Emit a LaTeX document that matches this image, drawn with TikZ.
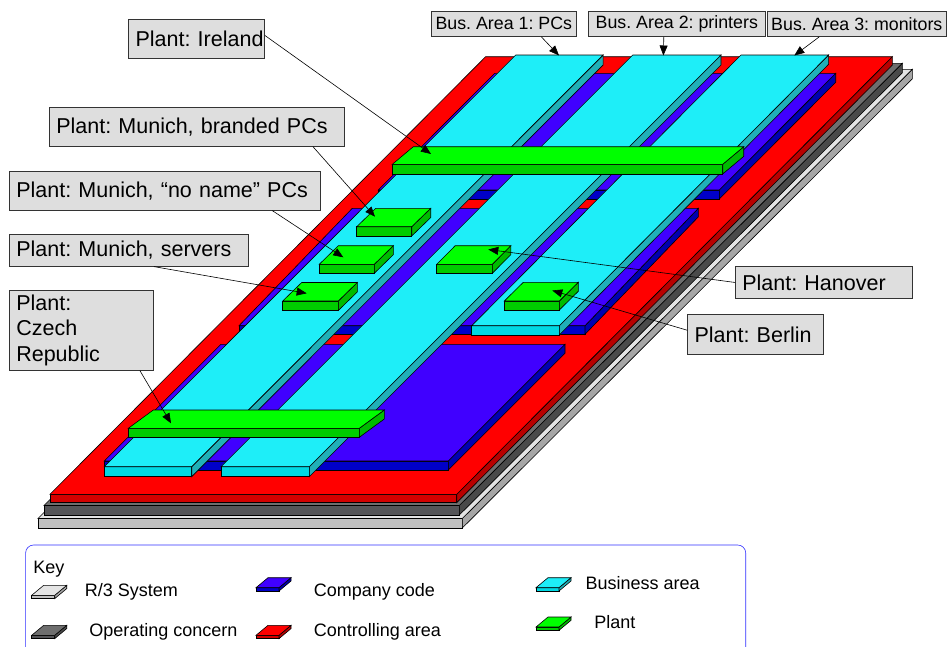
\documentclass[tikz,border=0pt]{standalone}
\usepackage{fontspec}
\setmainfont{Liberation Sans}
\usepackage{xcolor}
\usepackage{tikz}
\usetikzlibrary{arrows.meta}
\frenchspacing

\definecolor{systop}{HTML}{E4E4E4}
\definecolor{sysfront}{HTML}{C0C0C0}
\definecolor{sysside}{HTML}{A6A6A6}
\definecolor{opctop}{HTML}{6E6E6E}
\definecolor{opcfront}{HTML}{555558}
\definecolor{opcside}{HTML}{4A4A4A}
\definecolor{ctltop}{HTML}{FF0000}
\definecolor{ctlfront}{HTML}{D40000}
\definecolor{ctlside}{HTML}{B80000}
\definecolor{cctop}{HTML}{4000FF}
\definecolor{ccfront}{HTML}{0000C8}
\definecolor{ccside}{HTML}{0000B0}
\definecolor{batop}{HTML}{1EEEF8}
\definecolor{bafront}{HTML}{00D8E2}
\definecolor{baside}{HTML}{20B0B8}
\definecolor{pltop}{HTML}{00FF00}
\definecolor{plfront}{HTML}{00CC00}
\definecolor{plside}{HTML}{00BB00}
\definecolor{keyline}{HTML}{3030FF}

\begin{document}
\begin{tikzpicture}[x=1pt, y=-1pt, line width=0.6pt,
                    lbl/.style={draw=black!80, fill=black!13, anchor=north west,
                                inner xsep=7pt, inner ysep=0pt, align=left,
                                font=\fontsize{21.5}{25.5}\selectfont},
                    bus/.style={draw=black!80, fill=black!13, anchor=north west,
                                inner xsep=1pt, inner ysep=0pt, align=center,
                                minimum height=25.5pt,
                                font=\fontsize{17.8}{20}\selectfont},
                    arr/.style={-{Triangle[length=10pt,width=8pt]}, line width=0.6pt},
                    keytext/.style={anchor=base west, inner sep=0pt,
                                    font=\fontsize{18}{20}\selectfont}]
  \clip (0,0) rectangle (947,646);

  % layers, bottom to top: x/y of front left corner, width, slant, rise, thickness
  \foreach \x/\y/\w/\dx/\dy/\t/\col in {
      38/518.5/424.3/450/449.2/9.5/sys,
      44/505.5/415.3/443/442.2/9.5/opc,
      50/494.3/406.7/435.6/437.6/8.4/ctl,
      378.3/190/341/116.4/116.7/9/cc,
      239/325.7/346/113.3/117.4/8.6/cc,
      104.3/461/344/116.7/116.7/9/cc,
      471.7/325.7/87.6/269.3/270.7/9.3/ba,
      221/466.7/88.3/411.7/411.7/10/ba,
      104.3/466.7/87.4/411.4/411.7/10/ba,
      392.3/164.3/330.4/21/17.6/9.7/pl,
      356.7/226.7/55/19/18.4/9.3/pl,
      319.3/264.3/55/19/18.6/9/pl,
      282.7/301/55.6/19/18.5/9.5/pl,
      436.7/264.3/55.6/18.5/18.6/9/pl,
      504.3/301/55/19/18.7/9/pl,
      128.3/428.3/231/25/18.3/9/pl,
      31.7/595.3/23/12/10/3.3/sys,
      31.7/635.3/23/12/10/3.3/opc,
      256/587.7/23/12/10/3.3/cc,
      256/635.3/23/12/10/3.3/ctl,
      536/587.7/23/12/10/3.3/ba,
      536/627/23/12/10/3.3/pl}{
    \filldraw[fill=\col front] (\x,\y) rectangle ++(\w,\t);
    \filldraw[fill=\col side] (\x+\w,\y) -- ++(\dx,-\dy) -- ++(0,\t) -- ++(-\dx,\dy) -- cycle;
    \filldraw[fill=\col top] (\x,\y) -- ++(\w,0) -- ++(\dx,-\dy) -- ++(-\w,0) -- cycle;
  }

  \node[bus, minimum width=145pt] (bus1) at (431,10.7) {Bus. Area 1: PCs};
  \node[bus, minimum width=177pt] (bus2) at (588,10.7) {Bus. Area 2: printers};
  \node[bus, minimum width=179pt] (bus3) at (767,10.7) {Bus. Area 3: monitors};

  \node[lbl, text width=122pt, minimum height=39.3pt] (ireland) at (128.3,19) {\mbox{Plant: Ireland}};
  \node[lbl, text width=281pt, minimum height=39.3pt] (branded) at (49,106.7) {Plant: Munich, branded PCs};
  \node[lbl, text width=297pt, minimum height=39.3pt] (noname) at (9,170.7) {Plant: Munich, “no name” PCs};
  \node[lbl, text width=225.3pt, minimum height=32pt] (servers) at (9,234) {Plant: Munich, servers};
  \node[lbl, text width=129.7pt, minimum height=80pt] (czech) at (9,290) {Plant:\\Czech\\Republic};
  \node[lbl, text width=162.7pt, minimum height=32.3pt] (hanover) at (735,266) {Plant: Hanover};
  \node[lbl, text width=122pt, minimum height=39.7pt] (berlin) at (687.3,314.3) {Plant: Berlin};

  \coordinate (tbus1) at (559,55.5);
  \coordinate (tbus2) at (663.4,55.5);
  \coordinate (tbus3) at (794.3,55.5);
  \coordinate (tireland) at (431,154);
  \coordinate (tbranded) at (375,216.7);
  \coordinate (tnoname) at (343.3,257.3);
  \coordinate (tservers) at (306.7,293.3);
  \coordinate (tczech) at (171,423.3);
  \coordinate (thanover) at (488.3,249.5);
  \coordinate (tberlin) at (552.3,290.5);

  \draw[arr] ([xshift=37.5pt]bus1.south) -- (tbus1);
  \draw[arr] ([xshift=-13pt]bus2.south) -- (tbus2);
  \draw[arr] ([xshift=-37.5pt]bus3.south) -- (tbus3);
  \draw[arr] ([yshift=3.5pt]ireland.east) -- (tireland);
  \draw[arr] ([xshift=-31.7pt]branded.south east) -- (tbranded);
  \draw[arr] ([xshift=-48.3pt]noname.south east) -- (tnoname);
  \draw[arr] ([xshift=-95pt]servers.south east) -- (tservers);
  \draw[arr] ([xshift=-13.4pt]czech.south east) -- (tczech);
  \draw[arr] (hanover.west) -- (thanover);
  \draw[arr] ([yshift=4.2pt]berlin.west) -- (tberlin);

  % key
  \draw[keyline, rounded corners=8pt] (25.6,545) rectangle (745.7,700);
  \node[keytext] (key) at (33,573.5) {Key};
  \node[keytext] (ksys) at (84.5,596.2) {R/3 System};
  \node[keytext] (kopc) at (89,636.2) {Operating concern};
  \node[keytext] (kcc) at (313.5,596.2) {Company code};
  \node[keytext] (kctl) at (313.5,636.2) {Controlling area};
  \node[keytext] (kba) at (585.4,589) {Business area};
  \node[keytext] (kpl) at (594,628) {Plant};
\end{tikzpicture}
\end{document}
